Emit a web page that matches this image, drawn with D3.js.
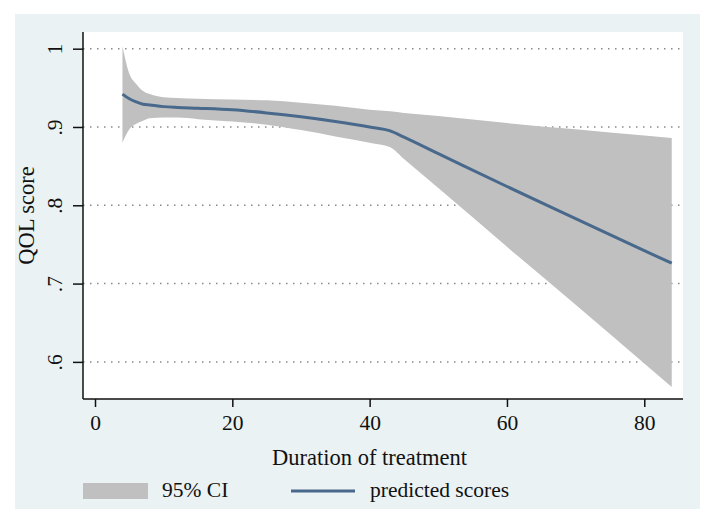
<!DOCTYPE html>
<html>
<head>
<meta charset="utf-8">
<script src="https://cdn.jsdelivr.net/npm/d3@7"></script>
<style>
  html, body { margin: 0; padding: 0; background: #ffffff; }
  svg { display: block; }
  text { font-family: "Liberation Serif", "Times New Roman", serif; fill: #111; }
</style>
</head>
<body>
<svg id="chart" width="715" height="524"></svg>
<script>
// ---- data ----
const duration  = [4, 5, 6, 7, 8, 10, 12, 15, 20, 25, 30, 35, 40, 43, 45, 50, 60, 70, 80, 84];
const predicted = [0.942, 0.936, 0.932, 0.929, 0.928, 0.926, 0.925, 0.924, 0.922, 0.918, 0.913, 0.907, 0.900, 0.895, 0.887, 0.866, 0.824, 0.783, 0.742, 0.726];
const ciUpper   = [1.003, 0.968, 0.955, 0.946, 0.942, 0.938, 0.937, 0.936, 0.935, 0.934, 0.931, 0.927, 0.922, 0.920, 0.918, 0.914, 0.905, 0.897, 0.889, 0.886];
const ciLower   = [0.880, 0.897, 0.904, 0.908, 0.911, 0.912, 0.912, 0.910, 0.907, 0.903, 0.896, 0.888, 0.880, 0.874, 0.859, 0.822, 0.747, 0.673, 0.598, 0.568];
const xTicks = [0, 20, 40, 60, 80];
const xTickLabels = ["0", "20", "40", "60", "80"];
const yTicks = [0.6, 0.7, 0.8, 0.9, 1];
const yTickLabels = [".6", ".7", ".8", ".9", "1"];
const xTitle = "Duration of treatment";
const yTitle = "QOL score";
const legendLabels = ["95% CI", "predicted scores"];

const rows = duration.map((d, i) => ({x: d, y: predicted[i], lo: ciLower[i], hi: ciUpper[i]}));

const svg = d3.select("#chart");
const plot = {left: 83, right: 683, top: 32, bottom: 399};

// outer background
svg.append("rect").attr("x", 15).attr("y", 14).attr("width", 685).attr("height", 495).attr("fill", "#eaf2f3");
// plot region
svg.append("rect").attr("x", plot.left).attr("y", plot.top)
  .attr("width", plot.right - plot.left).attr("height", plot.bottom - plot.top).attr("fill", "#ffffff");

const x = d3.scaleLinear().domain([-1.748, 85.64]).range([plot.left, plot.right]);
const y = d3.scaleLinear().domain([0.5526, 1.0213]).range([plot.bottom, plot.top]);

// grid
svg.append("g").selectAll("line").data(yTicks).join("line")
  .attr("x1", plot.left).attr("x2", plot.right)
  .attr("y1", d => y(d)).attr("y2", d => y(d))
  .attr("stroke", "#8a8a8a").attr("stroke-width", 1.5)
  .attr("stroke-dasharray", "1.5,5.5");

// CI band
const area = d3.area().x(d => x(d.x)).y0(d => y(d.lo)).y1(d => y(d.hi)).curve(d3.curveMonotoneX);
svg.append("path").datum(rows).attr("d", area).attr("fill", "#c0c0c0");

// prediction line
const line = d3.line().x(d => x(d.x)).y(d => y(d.y)).curve(d3.curveMonotoneX);
svg.append("path").datum(rows).attr("d", line)
  .attr("fill", "none").attr("stroke", "#48698b").attr("stroke-width", 3);

// axes
const yAxis = d3.axisLeft(y).tickValues(yTicks).tickFormat((d, i) => yTickLabels[i]).tickSize(10).tickSizeOuter(0);
const gy = svg.append("g").attr("transform", `translate(${plot.left},0)`).call(yAxis);
gy.select(".domain").attr("d", `M0,${plot.top}V${plot.bottom}`).attr("stroke", "#111").attr("stroke-width", 1.5);
gy.selectAll(".tick line").attr("stroke", "#111").attr("stroke-width", 1.5);
gy.selectAll(".tick text")
  .attr("x", null).attr("dy", null)
  .attr("transform", "translate(-21,0) rotate(-90)")
  .attr("text-anchor", "middle")
  .style("font-size", "21.5px").style("font-family", '"Liberation Serif", serif').attr("fill", "#111");

const xAxis = d3.axisBottom(x).tickValues(xTicks).tickFormat((d, i) => xTickLabels[i]).tickSize(8).tickSizeOuter(0);
const gx = svg.append("g").attr("transform", `translate(0,${plot.bottom})`).call(xAxis);
gx.select(".domain").attr("d", `M${plot.left},0H${plot.right}`).attr("stroke", "#111").attr("stroke-width", 1.5);
gx.selectAll(".tick line").attr("stroke", "#111").attr("stroke-width", 1.5);
gx.selectAll(".tick text")
  .attr("y", 31).attr("dy", null)
  .style("font-size", "21.5px").style("font-family", '"Liberation Serif", serif').attr("fill", "#111");

// axis titles
svg.append("text").attr("x", 369.5).attr("y", 465).attr("text-anchor", "middle")
  .style("font-size", "22.5px").text(xTitle);
svg.append("text").attr("transform", "translate(34,215.5) rotate(-90)").attr("text-anchor", "middle")
  .style("font-size", "22.5px").text(yTitle);

// legend
svg.append("rect").attr("x", 83).attr("y", 483).attr("width", 65).attr("height", 16).attr("fill", "#c0c0c0");
svg.append("text").attr("x", 162).attr("y", 497).style("font-size", "21.5px").text(legendLabels[0]);
svg.append("line").attr("x1", 291).attr("x2", 355).attr("y1", 491).attr("y2", 491)
  .attr("stroke", "#48698b").attr("stroke-width", 3);
svg.append("text").attr("x", 370).attr("y", 497).style("font-size", "21.5px").text(legendLabels[1]);
</script>
</body>
</html>
